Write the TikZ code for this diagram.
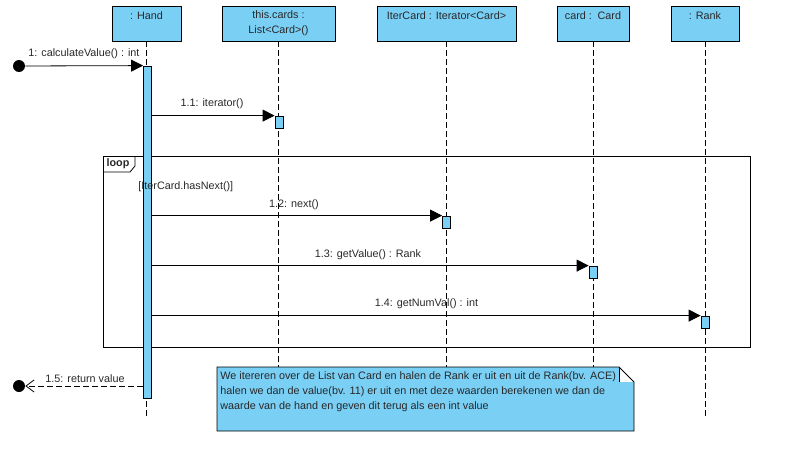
\documentclass[tikz,border=0pt]{standalone}
\usepackage{fontspec}
\setmainfont{Liberation Sans}
\usepackage{xcolor}
\usetikzlibrary{arrows.meta,calc,positioning,shapes}
\definecolor{vpblue}{RGB}{122,207,245}
\definecolor{vptext}{RGB}{40,40,40}
\tikzset{%
	lifehead/.style = {draw, fill=vpblue, rectangle, minimum height=35pt, align=center, inner sep=0pt, text=vptext},
	lifeline/.style = {dash pattern=on 6pt off 3pt},
	actbar/.style   = {draw, fill=vpblue, rectangle, minimum width=8pt, inner sep=0pt},
	msg/.style      = {-{Triangle[length=12pt,width=12pt]}},
	reply/.style    = {dash pattern=on 6pt off 3pt, -{Straight Barb[length=8pt,width=12pt]}},
	enddot/.style   = {circle, fill=black, minimum size=12pt, inner sep=0pt},
	msglabel/.style = {text=vptext, inner sep=0pt},
}

\begin{document}
\begin{tikzpicture}[x=1pt, y=-1pt, line width=0.8pt, font=\fontsize{10.8}{15}\selectfont]
	\useasboundingbox (0,0) rectangle (795,450);
	\node[lifehead, minimum width=69pt]  (hand)  at (146.5,23.5) {: Hand\\\mbox{}};
	\node[lifehead, minimum width=113pt] (cards) at (278.5,23.5) {this.cards :\\List<Card>()};
	\node[lifehead, minimum width=139pt] (iter)  at (446.5,23.5) {IterCard : Iterator<Card>\\\mbox{}};
	\node[lifehead, minimum width=72pt]  (card)  at (593,23.5)   {card :\, Card\\\mbox{}};
	\node[lifehead, minimum width=68pt]  (rank)  at (705,23.5)   {: Rank\\\mbox{}};
	\coordinate (lineend) at (0,418);
	\coordinate (notetop) at (0,367);
	\foreach \n in {hand,rank}
		\draw[lifeline] (\n.south) -- (\n.south |- lineend);
	\foreach \n in {cards,iter,card}
		\draw[lifeline] (\n.south) -- (\n.south |- notetop);
	% loop frame
	\draw (103,156) rectangle (750,347);
	\draw (103,172) -- (130,172) -- (135,166) -- (135,156);
	\node[msglabel, font=\fontsize{10.8}{15}\selectfont\bfseries] (looplbl) at (118,164) {loop};
	% activations
	\node[actbar, minimum height=332pt] (handbar)  at (147.5,232) {};
	\node[actbar, minimum height=12pt]  (listbar)  at (279,122)   {};
	\node[actbar, minimum height=12pt]  (nextbar)  at (446.5,222) {};
	\node[actbar, minimum height=12pt]  (valuebar) at (593,272)   {};
	\node[actbar, minimum height=12pt]  (numbar)   at (705,322)   {};
	\node[msglabel, anchor=west] (guard) at (138,187) {[IterCard.hasNext()]};
	% messages
	\node[enddot] (start) at (19,66) {};
	\draw[msg] (start) -- (handbar.north west);
	\node[msglabel, anchor=west] (m1) at (28,54) {1: calculateValue() : int};
	\draw[msg] (handbar.east |- listbar.north) -- (listbar.north west);
	\node[msglabel] (m11) at (212,104) {1.1: iterator()};
	\draw[msg] (handbar.east |- nextbar.north) -- (nextbar.north west);
	\node[msglabel] (m12) at (294,205) {1.2: next()};
	\draw[msg] (handbar.east |- valuebar.north) -- (valuebar.north west);
	\node[msglabel] (m13) at (368,255) {1.3: getValue() : Rank};
	\draw[msg] (handbar.east |- numbar.north) -- (numbar.north west);
	\node[msglabel] (m14) at (426.5,304) {1.4: getNumVal() : int};
	\node[enddot] (stop) at (19,386) {};
	\draw[reply] (handbar.west |- stop) -- (stop);
	\node[msglabel] (m15) at (85,379) {1.5: return value};
	% note
	\fill[vpblue] (217,367) -- (619,367) -- (619,382) -- (634,382) -- (634,431) -- (217,431) -- cycle;
	\draw (634,382) -- (634,431) -- (217,431) -- (217,367) -- (619,367) -- (634,382);
	\draw (619,367) -- (619,382);
	\node[msglabel, anchor=north west, align=left, font=\fontsize{10.8}{15.3}\selectfont] (note) at (220,371)
		{We itereren over de List van Card en halen de Rank er uit en uit de Rank(bv. ACE)\\
		 halen we dan de value(bv. 11) er uit en met deze waarden berekenen we dan de\\
		 waarde van de hand en geven dit terug als een int value};
\end{tikzpicture}
\end{document}
